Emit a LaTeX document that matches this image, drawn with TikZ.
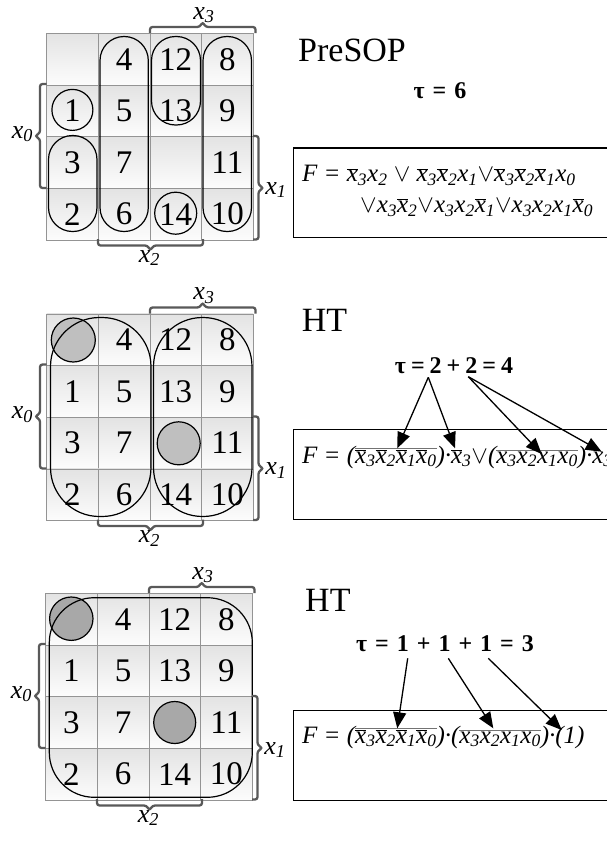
\documentclass[tikz,border=0pt]{standalone}
\usepackage{fontspec}
\setmainfont{Liberation Serif}
\usetikzlibrary{arrows.meta}

% literals: plain and negated variables
\newcommand\vx[1]{\textit{x}\textsubscript{\textit{#1}}}
\newcommand\nv[1]{$\overline{\mbox{\textit{x}}}$\textsubscript{\textit{#1}}}
% grey bar over a whole product
\newcommand\grp[1]{{\color{black!55}$\overline{\mbox{\color{black}#1}}$}}
% fixed gap inside the cost lines
\newcommand\gap[1]{\hspace{#1pt}}

\tikzset{
  cell/.style={draw=black!42, line width=0.6pt, minimum size=51.65pt, inner sep=0pt,
    top color=black!11, bottom color=black!1, font=\fontsize{33}{33}\selectfont},
  cover/.style={draw=black, line width=1.2pt},
  dot/.style={draw=black, line width=1.2pt},
  brace/.style={draw=black!65, line width=2.3pt, rounded corners=2.5pt},
  lbl/.style={inner sep=0pt, font=\fontsize{26}{26}\selectfont},
  title/.style={inner sep=0pt, anchor=base west, font=\fontsize{34}{34}\selectfont},
  cost/.style={inner sep=0pt, anchor=base, font=\fontsize{24}{24}\selectfont\bfseries},
  fbox/.style={draw=black, line width=1.3pt, anchor=north west, minimum width=340pt,
    minimum height=89.5pt, inner sep=0pt},
  formula/.style={inner sep=0pt, anchor=base west, font=\fontsize{25}{28}\selectfont\itshape},
  arr/.style={line width=1.3pt, -{Triangle[length=16pt,width=13pt]}},
}

% 4x4 map
\newcommand\kmap{%
  \foreach \r/\c/\t in {0/0/{},0/1/4,0/2/12,0/3/8,
                        1/0/1,1/1/5,1/2/13,1/3/9,
                        2/0/3,2/1/7,2/2/{},2/3/11,
                        3/0/2,3/1/6,3/2/14,3/3/10}
    \node[cell] (c\r\c) at ({46.6+51.65*(\c+0.5)},{32.4+51.65*(\r+0.5)+1}) {\t};
}
% variable brackets and their labels
\newcommand\brackets{%
  \draw[brace] (150,33) -- (150,27) -- (199.7,27) -- (202.7,22) -- (205.7,27) -- (255.5,27) -- (255.5,33);
  \draw[brace] (98,239) -- (98,245.5) -- (147.5,245.5) -- (150.5,250.5) -- (153.5,245.5) -- (203,245.5) -- (203,239);
  \draw[brace] (46.5,84) -- (40,84) -- (40,133) -- (35,136) -- (40,139) -- (40,188) -- (46.5,188);
  \draw[brace] (253,136) -- (258.5,136) -- (258.5,185) -- (263.5,188) -- (258.5,191) -- (258.5,239.5) -- (253,239.5);
  \node[lbl] (lx3) at (204,15) {\vx3};
  \node[lbl] (lx2) at (149.5,258) {\vx2};
  \node[lbl] (lx0) at (22.5,134) {\vx0};
  \node[lbl] (lx1) at (276,190) {\vx1};
}

\begin{document}
\begin{tikzpicture}[x=1pt,y=-1pt]
\useasboundingbox (0,0) rectangle (607,841);
\clip (0,0) rectangle (607,841);
\fill[white] (0,0) rectangle (607,841);

% ---------- PreSOP ----------
\begin{scope}[name prefix=A-]
  \kmap
  \draw[dot] (72.4,109.9) circle (20.5);
  \draw[dot] (175.7,213.2) circle (21);
  \draw[cover, rounded corners=24pt] (48.5,135.5) rectangle (97,231.5);
  \draw[cover, rounded corners=24pt] (100,36.5) rectangle (148.3,231.5);
  \draw[cover, rounded corners=24pt] (151.5,36.5) rectangle (200.5,125);
  \draw[cover, rounded corners=24pt] (203,36.5) rectangle (251.5,231.5);
  \brackets
\end{scope}
\node[title] (t1) at (298,61.7) {PreSOP};
\node[cost] (k1) at (440,98.3) {τ\gap8=\gap86};
\node[fbox] (b1) at (292.7,147.3) {};
\node[formula] (f1a) at (302,181.7)
  {F = \nv3\vx2 $\vee$ \nv3\nv2\vx1$\vee$\nv3\nv2\nv1\vx0};
\node[formula] (f1b) at (360,212.5)
  {$\vee$\vx3\nv2$\vee$\vx3\vx2\nv1$\vee$\vx3\vx2\vx1\nv0};

% ---------- HT, two terms ----------
\begin{scope}[shift={(0,280.5)}, name prefix=B-]
  \kmap
  \draw[dot, fill=black!25] (73.3,59.5) circle (22);
  \draw[dot, fill=black!25] (178.7,162.8) circle (21.5);
  \draw[cover, rounded corners=49pt] (50.5,37) rectangle (151,236);
  \draw[cover, rounded corners=49pt] (153.5,37) rectangle (252,236);
  \brackets
\end{scope}
\node[title] (t2) at (301.7,331.7) {HT};
\node[cost] (k2) at (454,373) {τ\gap5=\gap52\gap5+\gap52\gap5=\gap54};
\node[fbox] (b2) at (292.7,429) {};
\node[formula] (f2) at (302,463)
  {F = (\grp{\nv3\nv2\nv1\nv0})·\nv3$\vee$(\grp{\vx3\vx2\vx1\vx0})·\vx3};
\coordinate (p21) at (428.3,377.3);
\coordinate (p22) at (468.3,376.7);
\coordinate (q21) at (397.3,448.3);
\coordinate (q22) at (455,448.3);
\coordinate (q23) at (541.7,454);
\coordinate (q24) at (601.7,451.7);
\draw[arr] (p21) -- (q21);
\draw[arr] (p21) -- (q22);
\draw[arr] (p22) -- (q23);
\draw[arr] (p22) -- (q24);

% ---------- HT, one term ----------
\begin{scope}[shift={(-1,560)}, name prefix=C-]
  \kmap
  \draw[dot, fill=black!34] (72.3,58.7) circle (21.7);
  \draw[dot, fill=black!34] (175.7,162.5) circle (21);
  \draw[cover, rounded corners=45pt] (50.3,37.7) rectangle (253.3,237.3);
  \brackets
\end{scope}
\node[title] (t3) at (305,611.7) {HT};
\node[cost] (k3) at (445,651.7) {τ\gap8=\gap81\gap8+\gap81\gap8+\gap81\gap8=\gap83};
\node[fbox] (b3) at (292.7,710) {};
\node[formula] (f3) at (302,743)
  {F = (\grp{\nv3\nv2\nv1\nv0})·(\grp{\vx3\vx2\vx1\vx0})·(1)};
\coordinate (p31) at (407.7,658.3);
\coordinate (p32) at (448.3,658.3);
\coordinate (p33) at (488.3,658.3);
\coordinate (q31) at (397.3,728.3);
\coordinate (q32) at (493.3,728.3);
\coordinate (q33) at (561.7,730);
\draw[arr] (p31) -- (q31);
\draw[arr] (p32) -- (q32);
\draw[arr] (p33) -- (q33);
\end{tikzpicture}
\end{document}
